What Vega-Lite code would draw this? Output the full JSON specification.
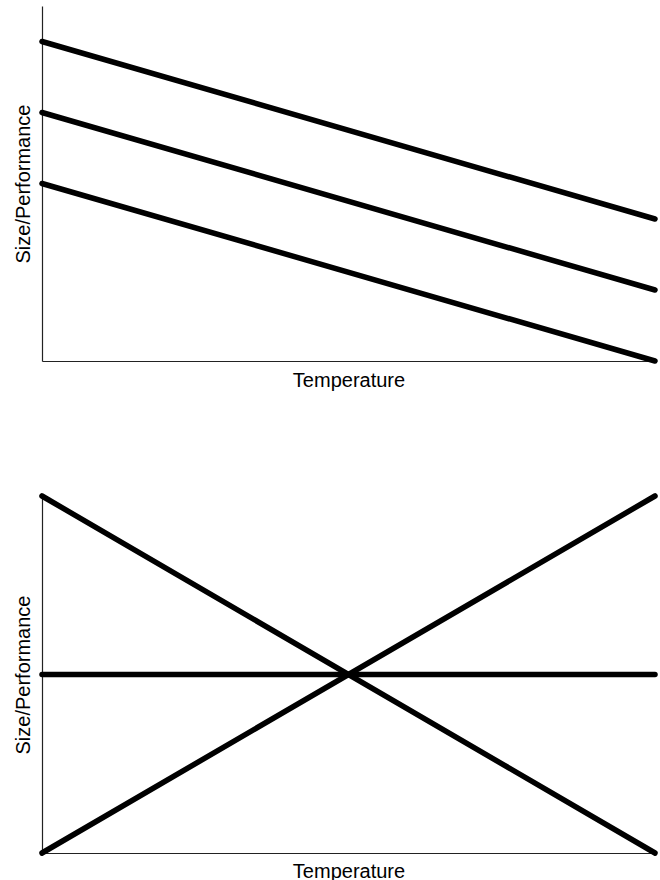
{
  "$schema": "https://vega.github.io/schema/vega-lite/v6.json",
  "background": "white",
  "padding": {"left": 13, "top": 6, "right": 5, "bottom": 0},
  "spacing": 94,
  "config": {
    "view": {"stroke": null},
    "font": "Liberation Sans",
    "axis": {
      "grid": false,
      "ticks": false,
      "labels": false,
      "domainColor": "#222222",
      "domainWidth": 1.2,
      "titleFont": "Liberation Sans",
      "titleFontSize": 20,
      "titleFontWeight": "normal",
      "titleColor": "#000000"
    }
  },
  "datasets": {
    "top": [
      {"series": "a", "temp": 0, "perf": 90},
      {"series": "a", "temp": 1, "perf": 40},
      {"series": "b", "temp": 0, "perf": 70},
      {"series": "b", "temp": 1, "perf": 20},
      {"series": "c", "temp": 0, "perf": 50},
      {"series": "c", "temp": 1, "perf": 0}
    ],
    "bottom": [
      {"series": "a", "temp": 0, "perf": 100},
      {"series": "a", "temp": 1, "perf": 0},
      {"series": "b", "temp": 0, "perf": 0},
      {"series": "b", "temp": 1, "perf": 100},
      {"series": "c", "temp": 0, "perf": 50},
      {"series": "c", "temp": 1, "perf": 50}
    ]
  },
  "vconcat": [
    {
      "width": 613,
      "height": 355,
      "data": {"name": "top"},
      "mark": {"type": "line", "color": "#000000", "strokeWidth": 5.5, "strokeCap": "round"},
      "encoding": {
        "x": {"field": "temp", "type": "quantitative", "scale": {"domain": [0, 1], "nice": false}, "axis": {"title": "Temperature", "titlePadding": 9.5}},
        "y": {"field": "perf", "type": "quantitative", "scale": {"domain": [0, 100], "nice": false}, "axis": {"title": "Size/Performance", "titlePadding": 9}},
        "detail": {"field": "series"}
      }
    },
    {
      "width": 613,
      "height": 357,
      "data": {"name": "bottom"},
      "mark": {"type": "line", "color": "#000000", "strokeWidth": 5.5, "strokeCap": "round"},
      "encoding": {
        "x": {"field": "temp", "type": "quantitative", "scale": {"domain": [0, 1], "nice": false}, "axis": {"title": "Temperature", "titlePadding": 8}},
        "y": {"field": "perf", "type": "quantitative", "scale": {"domain": [0, 100], "nice": false}, "axis": {"title": "Size/Performance", "titlePadding": 9}},
        "detail": {"field": "series"}
      }
    }
  ]
}
